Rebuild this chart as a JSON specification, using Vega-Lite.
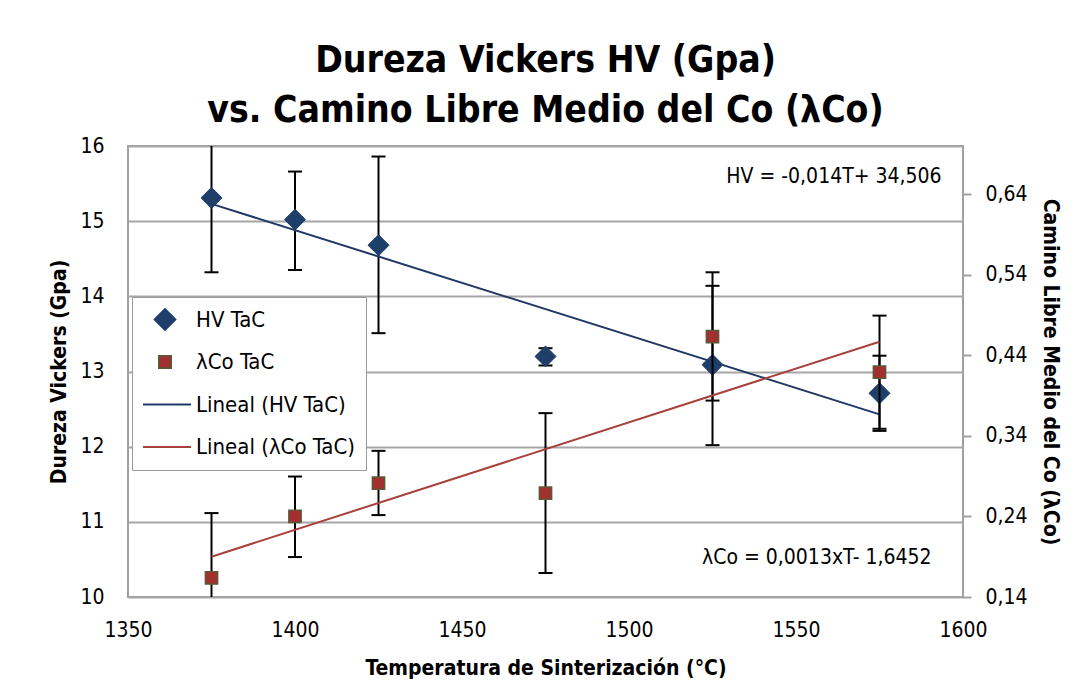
{
  "$schema": "https://vega.github.io/schema/vega-lite/v6.json",
  "width": 835,
  "height": 451,
  "autosize": {"type": "none"},
  "padding": {"left": 128, "top": 146, "right": 123, "bottom": 101},
  "background": "white",
  "title": {
    "text": ["Dureza Vickers HV (Gpa)", "vs. Camino Libre Medio del Co (λCo)"],
    "font": "Liberation Sans Narrow, Arial Narrow, DejaVu Sans Condensed, sans-serif",
    "fontSize": 37,
    "fontWeight": "bold",
    "lineHeight": 50,
    "color": "black",
    "anchor": "middle",
    "offset": 5
  },
  "config": {
    "font": "Liberation Sans Narrow, Arial Narrow, DejaVu Sans Condensed, sans-serif",
    "view": {"stroke": "#a0a0a0", "strokeWidth": 2},
    "axis": {"labelColor": "black", "titleColor": "black", "labelFontSize": 21, "titleFontSize": 21, "titleFontWeight": "bold"},
    "legend": {
      "orient": "none",
      "legendX": 4,
      "legendY": 151,
      "padding": 11,
      "symbolOffset": -5,
      "labelOffset": 4,
      "rowPadding": 19.5,
      "clipHeight": 23,
      "labelFontSize": 22,
      "labelColor": "black",
      "labelLimit": 300,
      "symbolOpacity": 1,
      "symbolStrokeWidth": 1.8,
      "strokeColor": "#9a9a9a",
      "fillColor": "white",
      "title": null
    }
  },
  "datasets": {
    "hv": [
      {"T": 1375, "series": "HV TaC", "v": 15.31, "lo": 14.32, "hi": 16.30},
      {"T": 1400, "series": "HV TaC", "v": 15.02, "lo": 14.35, "hi": 15.66},
      {"T": 1425, "series": "HV TaC", "v": 14.68, "lo": 13.51, "hi": 15.86},
      {"T": 1475, "series": "HV TaC", "v": 13.20, "lo": 13.08, "hi": 13.31},
      {"T": 1525, "series": "HV TaC", "v": 13.09, "lo": 12.02, "hi": 14.14},
      {"T": 1575, "series": "HV TaC", "v": 12.71, "lo": 12.21, "hi": 13.21}
    ],
    "co": [
      {"T": 1375, "series": "λCo TaC", "v": 0.1636, "lo": 0.083, "hi": 0.2442},
      {"T": 1400, "series": "λCo TaC", "v": 0.240, "lo": 0.1896, "hi": 0.2896},
      {"T": 1425, "series": "λCo TaC", "v": 0.2814, "lo": 0.2417, "hi": 0.3215},
      {"T": 1475, "series": "λCo TaC", "v": 0.269, "lo": 0.1698, "hi": 0.3683},
      {"T": 1525, "series": "λCo TaC", "v": 0.4633, "lo": 0.3839, "hi": 0.5432},
      {"T": 1575, "series": "λCo TaC", "v": 0.4192, "lo": 0.3489, "hi": 0.4894}
    ],
    "hvfit": [
      {"T": 1375, "series": "Lineal (HV TaC)", "v": 15.23},
      {"T": 1575, "series": "Lineal (HV TaC)", "v": 12.43}
    ],
    "cofit": [
      {"T": 1375, "series": "Lineal (λCo TaC)", "v": 0.19},
      {"T": 1575, "series": "Lineal (λCo TaC)", "v": 0.457}
    ],
    "eq": [
      {"T": 1593.6, "v": 15.59, "label": "HV = -0,014T+ 34,506"},
      {"T": 1590.6, "v": 10.52, "label": "λCo = 0,0013xT- 1,6452"}
    ]
  },
  "encoding": {
    "x": {
      "field": "T",
      "type": "quantitative",
      "scale": {"domain": [1350, 1600], "nice": false, "zero": false},
      "axis": {
        "values": [1350, 1400, 1450, 1500, 1550, 1600],
        "format": "d",
        "grid": false,
        "ticks": false,
        "domain": false,
        "labelPadding": 22,
        "labelFlush": false,
        "labelOverlap": false,
        "titlePadding": 17
      },
      "title": "Temperatura de Sinterización (°C)"
    }
  },
  "layer": [
    {
      "layer": [
        {
          "data": {"name": "hv"},
          "mark": {"type": "rule", "color": "black", "strokeWidth": 2, "clip": true},
          "encoding": {
            "y": {"field": "lo", "type": "quantitative", "scale": {"domain": [10, 16], "nice": false, "zero": false}, "title": "Dureza Vickers (Gpa)",
              "axis": {"values": [10, 11, 12, 13, 14, 15, 16], "format": "d", "grid": true, "gridColor": "#a6a6a6", "gridWidth": 2, "ticks": false, "domain": false, "labelPadding": 24, "titlePadding": 10}},
            "y2": {"field": "hi"}
          }
        },
        {
          "data": {"name": "hv"},
          "mark": {"type": "tick", "orient": "horizontal", "color": "black", "size": 14, "thickness": 2, "clip": true, "opacity": 1},
          "encoding": {
            "y": {"field": "hi", "type": "quantitative", "scale": {"domain": [10, 16], "nice": false, "zero": false}, "title": "Dureza Vickers (Gpa)"}
          }
        },
        {
          "data": {"name": "hv"},
          "mark": {"type": "tick", "orient": "horizontal", "color": "black", "size": 14, "thickness": 2, "clip": true, "opacity": 1},
          "encoding": {
            "y": {"field": "lo", "type": "quantitative", "scale": {"domain": [10, 16], "nice": false, "zero": false}, "title": "Dureza Vickers (Gpa)"}
          }
        },
        {
          "data": {"name": "hvfit"},
          "mark": {"type": "line", "strokeWidth": 2},
          "encoding": {
            "y": {"field": "v", "type": "quantitative", "scale": {"domain": [10, 16], "nice": false, "zero": false}, "title": "Dureza Vickers (Gpa)"},
            "stroke": {"field": "series", "type": "nominal",
              "scale": {"domain": ["HV TaC", "λCo TaC", "Lineal (HV TaC)", "Lineal (λCo TaC)"], "range": ["#1F3F6B", "#5C5838", "#1F3864", "#A8403C"]}}
          }
        },
        {
          "data": {"name": "hv"},
          "mark": {"type": "point", "filled": true, "opacity": 1, "strokeWidth": 1},
          "encoding": {
            "y": {"field": "v", "type": "quantitative", "scale": {"domain": [10, 16], "nice": false, "zero": false}, "title": "Dureza Vickers (Gpa)"},
            "fill": {"field": "series", "type": "nominal",
              "scale": {"domain": ["HV TaC", "λCo TaC", "Lineal (HV TaC)", "Lineal (λCo TaC)"], "range": ["#1F3F6B", "#A3302F", "#1F3864", "#A8403C"]}},
            "stroke": {"field": "series", "type": "nominal",
              "scale": {"domain": ["HV TaC", "λCo TaC", "Lineal (HV TaC)", "Lineal (λCo TaC)"], "range": ["#1F3F6B", "#5C5838", "#1F3864", "#A8403C"]}},
            "shape": {"field": "series", "type": "nominal",
              "scale": {"domain": ["HV TaC", "λCo TaC", "Lineal (HV TaC)", "Lineal (λCo TaC)"], "range": ["diamond", "square", "stroke", "stroke"]}},
            "size": {"field": "series", "type": "nominal",
              "scale": {"type": "ordinal", "domain": ["HV TaC", "λCo TaC", "Lineal (HV TaC)", "Lineal (λCo TaC)"], "range": [440, 150, 2700, 2700]}}
          }
        },
        {
          "data": {"name": "eq"},
          "mark": {"type": "text", "align": "right", "baseline": "middle", "fontSize": 21, "color": "black"},
          "encoding": {
            "y": {"field": "v", "type": "quantitative", "scale": {"domain": [10, 16], "nice": false, "zero": false}, "title": "Dureza Vickers (Gpa)"},
            "text": {"field": "label", "type": "nominal"}
          }
        }
      ]
    },
    {
      "layer": [
        {
          "data": {"name": "co"},
          "mark": {"type": "rule", "color": "black", "strokeWidth": 2, "clip": true},
          "encoding": {
            "y": {"field": "lo", "type": "quantitative", "scale": {"domain": [0.14, 0.70], "nice": false, "zero": false}, "title": "Camino Libre Medio del Co (λCo)",
              "axis": {"orient": "right", "values": [0.14, 0.24, 0.34, 0.44, 0.54, 0.64], "grid": false, "ticks": true, "tickSize": 8, "tickWidth": 2, "tickColor": "#a0a0a0", "domain": false, "labelPadding": 14, "titlePadding": 12,
                "labelExpr": "replace(format(datum.value, '.2f'), '.', ',')"}},
            "y2": {"field": "hi"}
          }
        },
        {
          "data": {"name": "co"},
          "mark": {"type": "tick", "orient": "horizontal", "color": "black", "size": 14, "thickness": 2, "clip": true, "opacity": 1},
          "encoding": {
            "y": {"field": "hi", "type": "quantitative", "scale": {"domain": [0.14, 0.70], "nice": false, "zero": false}, "title": "Camino Libre Medio del Co (λCo)"}
          }
        },
        {
          "data": {"name": "co"},
          "mark": {"type": "tick", "orient": "horizontal", "color": "black", "size": 14, "thickness": 2, "clip": true, "opacity": 1},
          "encoding": {
            "y": {"field": "lo", "type": "quantitative", "scale": {"domain": [0.14, 0.70], "nice": false, "zero": false}, "title": "Camino Libre Medio del Co (λCo)"}
          }
        },
        {
          "data": {"name": "cofit"},
          "mark": {"type": "line", "strokeWidth": 2},
          "encoding": {
            "y": {"field": "v", "type": "quantitative", "scale": {"domain": [0.14, 0.70], "nice": false, "zero": false}, "title": "Camino Libre Medio del Co (λCo)"},
            "stroke": {"field": "series", "type": "nominal",
              "scale": {"domain": ["HV TaC", "λCo TaC", "Lineal (HV TaC)", "Lineal (λCo TaC)"], "range": ["#1F3F6B", "#5C5838", "#1F3864", "#A8403C"]}}
          }
        },
        {
          "data": {"name": "co"},
          "mark": {"type": "point", "filled": true, "opacity": 1, "strokeWidth": 1.5},
          "encoding": {
            "y": {"field": "v", "type": "quantitative", "scale": {"domain": [0.14, 0.70], "nice": false, "zero": false}, "title": "Camino Libre Medio del Co (λCo)"},
            "fill": {"field": "series", "type": "nominal",
              "scale": {"domain": ["HV TaC", "λCo TaC", "Lineal (HV TaC)", "Lineal (λCo TaC)"], "range": ["#1F3F6B", "#A3302F", "#1F3864", "#A8403C"]}},
            "stroke": {"field": "series", "type": "nominal",
              "scale": {"domain": ["HV TaC", "λCo TaC", "Lineal (HV TaC)", "Lineal (λCo TaC)"], "range": ["#1F3F6B", "#5C5838", "#1F3864", "#A8403C"]}},
            "shape": {"field": "series", "type": "nominal",
              "scale": {"domain": ["HV TaC", "λCo TaC", "Lineal (HV TaC)", "Lineal (λCo TaC)"], "range": ["diamond", "square", "stroke", "stroke"]}},
            "size": {"field": "series", "type": "nominal",
              "scale": {"type": "ordinal", "domain": ["HV TaC", "λCo TaC", "Lineal (HV TaC)", "Lineal (λCo TaC)"], "range": [440, 150, 2700, 2700]}}
          }
        }
      ]
    }
  ],
  "resolve": {"scale": {"y": "independent"}, "axis": {"y": "independent"}}
}
